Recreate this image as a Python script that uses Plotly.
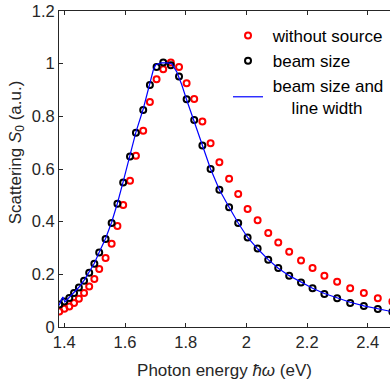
import plotly.graph_objects as go

# ---- data ----
energy = [1.3835, 1.400, 1.4165, 1.432, 1.448, 1.465, 1.482, 1.499, 1.515, 1.536,
          1.556, 1.575, 1.594, 1.6165, 1.636, 1.660, 1.682, 1.704, 1.726, 1.751,
          1.778, 1.803, 1.828, 1.855, 1.882, 1.911, 1.943, 1.973, 2.004, 2.037,
          2.072, 2.105, 2.141, 2.180, 2.218, 2.257, 2.299, 2.342, 2.387, 2.433, 2.481]

without_source = [0.059, 0.069, 0.078, 0.091, 0.107, 0.129, 0.154, 0.182, 0.220, 0.262,
                  0.316, 0.384, 0.463, 0.555, 0.650, 0.745, 0.854, 0.941, 0.979, 1.004,
                  0.987, 0.926, 0.866, 0.780, 0.698, 0.626, 0.563, 0.505, 0.448, 0.405,
                  0.357, 0.321, 0.286, 0.253, 0.224, 0.195, 0.172, 0.147, 0.129, 0.109, 0.097]

beam_size = [0.085, 0.097, 0.110, 0.129, 0.150, 0.176, 0.206, 0.240, 0.283, 0.334,
             0.395, 0.468, 0.549, 0.647, 0.738, 0.824, 0.919, 0.987, 1.004, 0.994,
             0.951, 0.865, 0.786, 0.689, 0.600, 0.521, 0.455, 0.395, 0.340, 0.298,
             0.255, 0.224, 0.195, 0.169, 0.147, 0.125, 0.109, 0.091, 0.080, 0.068, 0.058]

line_energy = [1.3825, 1.395, 1.402, 1.4165, 1.432, 1.448, 1.465, 1.482, 1.499, 1.515,
               1.536, 1.556, 1.575, 1.594, 1.6165, 1.636, 1.660, 1.680, 1.693, 1.701,
               1.720, 1.740, 1.754, 1.770, 1.787, 1.803, 1.825, 1.847, 1.882, 1.911,
               1.943, 1.973, 2.004, 2.037, 2.072, 2.105, 2.141, 2.180, 2.218, 2.257,
               2.299, 2.342, 2.387, 2.433, 2.481]
line_width = [0.082, 0.114, 0.095, 0.112, 0.130, 0.151, 0.177, 0.207, 0.242, 0.284,
              0.336, 0.398, 0.470, 0.552, 0.650, 0.740, 0.828, 0.922, 0.975, 0.996,
              1.003, 1.003, 1.000, 0.970, 0.920, 0.863, 0.793, 0.717, 0.600, 0.521,
              0.455, 0.395, 0.340, 0.297, 0.256, 0.223, 0.195, 0.170, 0.147, 0.127,
              0.110, 0.094, 0.080, 0.068, 0.058]

x_ticks = [1.4, 1.6, 1.8, 2.0, 2.2, 2.4]
x_labels = ["1.4", "1.6", "1.8", "2", "2.2", "2.4"]
y_ticks = [0, 0.2, 0.4, 0.6, 0.8, 1.0, 1.2]
y_labels = ["0", "0.2", "0.4", "0.6", "0.8", "1", "1.2"]

FONT = "Liberation Sans, Arial, Helvetica, sans-serif"
AX = "#262626"
NB = "\u00a0"

fig = go.Figure()
fig.add_trace(go.Scatter(
    x=energy, y=without_source, mode="markers", name=NB + "without source",
    marker=dict(symbol="circle-open", size=6, color="#ff0000", line=dict(width=2, color="#ff0000")),
))
fig.add_trace(go.Scatter(
    x=energy, y=beam_size, mode="markers", name=NB + "beam size",
    marker=dict(symbol="circle-open", size=6, color="#000000", line=dict(width=2, color="#000000")),
))
fig.add_trace(go.Scatter(
    x=line_energy, y=line_width, mode="lines",
    name=NB + "beam size and<br>" + NB * 5 + "line width",
    line=dict(color="#0000ff", width=1.2),
))

fig.update_layout(
    width=390, height=386,
    margin=dict(l=59, r=0, t=11, b=59),
    paper_bgcolor="white", plot_bgcolor="white",
    font=dict(family=FONT, size=17, color=AX),
    xaxis=dict(
        range=[1.3825, 2.4732], tickvals=x_ticks, ticktext=x_labels,
        ticks="inside", ticklen=4, tickcolor=AX, tickwidth=1,
        showline=True, linecolor=AX, linewidth=1, mirror="ticks",
        showgrid=False, zeroline=False,
        tickfont=dict(size=16.5, color=AX),
        title=dict(text="Photon energy <i>ħω</i> (eV)", font=dict(size=17, color=AX), standoff=14),
    ),
    yaxis=dict(
        range=[0, 1.2], tickvals=y_ticks, ticktext=y_labels,
        ticks="inside", ticklen=4, tickcolor=AX, tickwidth=1,
        showline=True, linecolor=AX, linewidth=1, mirror=False,
        showgrid=False, zeroline=False,
        tickfont=dict(size=16.5, color=AX),
    ),
    yaxis2=dict(
        overlaying="y", side="right", range=[0, 1.2], tickvals=y_ticks,
        ticks="inside", ticklen=3, tickcolor=AX, showticklabels=False,
        showline=False, showgrid=False, zeroline=False,
    ),
    legend=dict(
        x=0.5106, y=0.9779, xanchor="left", yanchor="top",
        bgcolor="rgba(0,0,0,0)", borderwidth=0,
        font=dict(size=17, color="#000000"),
    ),
    annotations=[dict(
        text="Scattering <i>S</i><sub>0</sub> (a.u.)", textangle=-90,
        xref="paper", yref="paper", x=-0.127, y=0.5527,
        xanchor="center", yanchor="middle", showarrow=False,
        font=dict(size=17, color=AX),
    )],
)

fig.write_html("out.html")
